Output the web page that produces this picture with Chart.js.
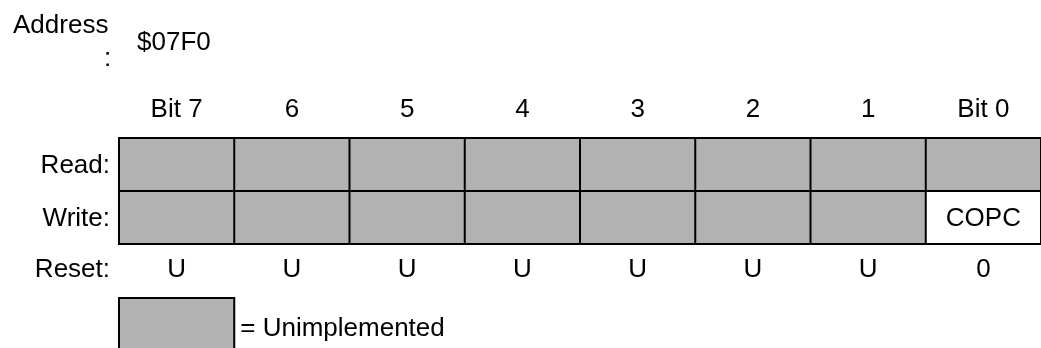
<!DOCTYPE html>
<html>
<head>
<meta charset="utf-8">
<script src="https://cdn.jsdelivr.net/npm/chart.js@4/dist/chart.umd.min.js"></script>
<style>
html,body{margin:0;padding:0;background:#fff;}
#wrap{width:1041px;height:348px;position:relative;}
</style>
</head>
<body>
<div id="wrap"><canvas id="c" width="1041" height="348"></canvas></div>
<script>
// ---- data ----
const address = '$07F0';
const bitLabels = ['Bit 7', '6', '5', '4', '3', '2', '1', 'Bit 0'];
const rowLabels = ['Read:', 'Write:'];
const readNames = ['', '', '', '', '', '', '', ''];
const readImplemented = [false, false, false, false, false, false, false, false];
const writeNames = ['', '', '', '', '', '', '', 'COPC'];
const writeImplemented = [false, false, false, false, false, false, false, true];
const resetLabel = 'Reset:';
const resetValues = ['U', 'U', 'U', 'U', 'U', 'U', 'U', '0'];
const legendText = '= Unimplemented';

const GREY = '#b2b2b2';
const FONT = '26px "Liberation Sans", Arial, sans-serif';

// one dataset per bit column, data points per row
const datasets = bitLabels.map((b, i) => ({
  label: b,
  data: rowLabels.map(() => [i, i + 1]),
  backgroundColor: [readImplemented[i] ? '#ffffff' : GREY, writeImplemented[i] ? '#ffffff' : GREY],
  borderWidth: 0,
  grouped: false,
  barPercentage: 1,
  categoryPercentage: 1
}));

const registerPlugin = {
  id: 'registerPlugin',
  afterDatasetsDraw(chart) {
    const ctx = chart.ctx;
    const xs = chart.scales.x;
    const ys = chart.scales.y;
    const area = chart.chartArea;
    const rowH = (area.bottom - area.top) / rowLabels.length;
    ctx.save();
    // grid lines
    ctx.strokeStyle = '#000';
    ctx.lineWidth = 2;
    ctx.beginPath();
    for (let i = 0; i <= bitLabels.length; i++) {
      const x = xs.getPixelForValue(i);
      ctx.moveTo(x, area.top);
      ctx.lineTo(x, area.bottom);
    }
    for (let r = 0; r <= rowLabels.length; r++) {
      const y = area.top + r * rowH;
      ctx.moveTo(area.left - 1, y);
      ctx.lineTo(area.right + 1, y);
    }
    ctx.stroke();

    ctx.fillStyle = '#000';
    ctx.font = FONT;
    ctx.textBaseline = 'alphabetic';
    // bit headers
    ctx.textAlign = 'center';
    bitLabels.forEach((b, i) => {
      ctx.fillText(b, xs.getPixelForValue(i + 0.5), 117);
    });
    // row labels
    ctx.textAlign = 'right';
    rowLabels.forEach((r, k) => {
      ctx.fillText(r, 110, ys.getPixelForValue(k) + 8);
    });
    // cell names
    ctx.textAlign = 'center';
    writeNames.forEach((n, i) => {
      if (n) ctx.fillText(n, xs.getPixelForValue(i + 0.5), ys.getPixelForValue(1) + 8);
    });
    readNames.forEach((n, i) => {
      if (n) ctx.fillText(n, xs.getPixelForValue(i + 0.5), ys.getPixelForValue(0) + 8);
    });
    // reset row
    ctx.textAlign = 'right';
    ctx.fillText(resetLabel, 110, 277);
    ctx.textAlign = 'center';
    resetValues.forEach((v, i) => {
      ctx.fillText(v, xs.getPixelForValue(i + 0.5), 277);
    });
    // address
    ctx.textAlign = 'left';
    ctx.fillText('Address', 13, 33);
    ctx.fillText(':', 104, 66);
    ctx.fillText(address, 137, 50);
    // legend key
    const lx0 = xs.getPixelForValue(0);
    const lx1 = xs.getPixelForValue(1);
    ctx.fillStyle = GREY;
    ctx.fillRect(lx0, 298, lx1 - lx0, 60);
    ctx.beginPath();
    ctx.moveTo(lx0, 360);
    ctx.lineTo(lx0, 298);
    ctx.lineTo(lx1, 298);
    ctx.lineTo(lx1, 360);
    ctx.stroke();
    ctx.fillStyle = '#000';
    ctx.fillText(legendText, lx1 + 6, 336);
    ctx.restore();
  }
};

new Chart(document.getElementById('c'), {
  type: 'bar',
  data: { labels: rowLabels, datasets },
  options: {
    indexAxis: 'y',
    responsive: false,
    animation: false,
    events: [],
    layout: { padding: { left: 119, right: 0, top: 138, bottom: 104 } },
    plugins: { legend: { display: false }, tooltip: { enabled: false } },
    scales: {
      x: { type: 'linear', min: 0, max: 8, display: false },
      y: { type: 'category', display: false, offset: true }
    }
  },
  plugins: [registerPlugin]
});
</script>
</body>
</html>
